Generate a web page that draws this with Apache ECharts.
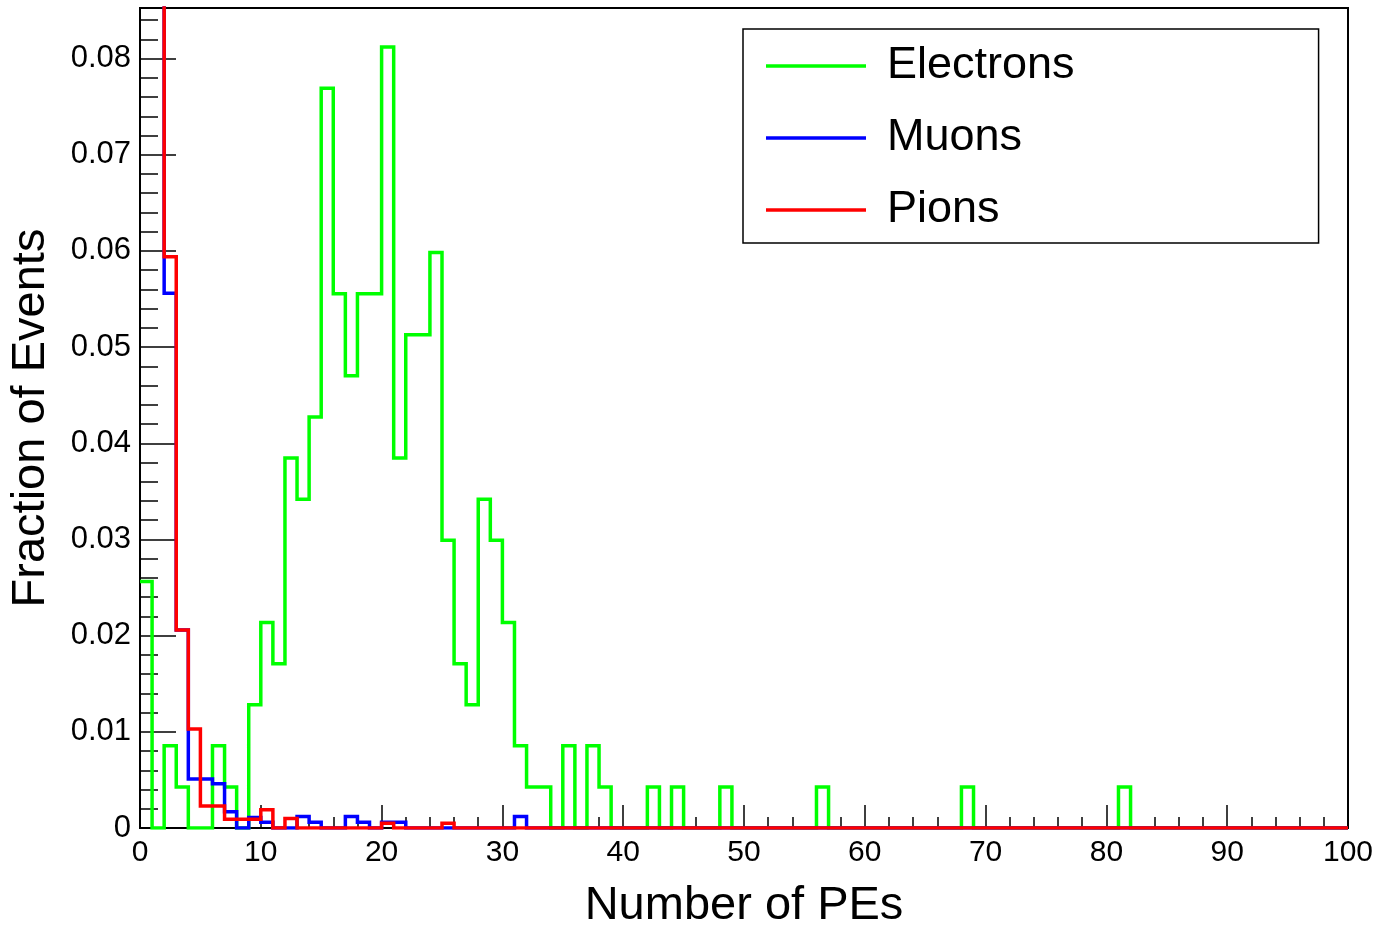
<!DOCTYPE html>
<html>
<head>
<meta charset="utf-8">
<title>Number of PEs</title>
<script src="https://cdn.jsdelivr.net/npm/echarts@6/dist/echarts.min.js"></script>
<style>
  html, body { margin: 0; padding: 0; background: #fff; }
  #chart { width: 1379px; height: 926px; }
</style>
</head>
<body>
<div id="chart"></div>
<script>
// fraction of events per 1-PE bin, bins 0..99
var electrons = [
  0.02564, 0, 0.00855, 0.00427, 0, 0, 0.00855, 0.00427, 0, 0.01282,
  0.02137, 0.01709, 0.03846, 0.03419, 0.04274, 0.07692, 0.05556, 0.04701, 0.05556, 0.05556,
  0.08120, 0.03846, 0.05128, 0.05128, 0.05983, 0.02991, 0.01709, 0.01282, 0.03419, 0.02991,
  0.02137, 0.00855, 0.00427, 0.00427, 0, 0.00855, 0, 0.00855, 0.00427, 0,
  0, 0, 0.00427, 0, 0.00427, 0, 0, 0, 0.00427, 0,
  0, 0, 0, 0, 0, 0, 0.00427, 0, 0, 0,
  0, 0, 0, 0, 0, 0, 0, 0, 0.00427, 0,
  0, 0, 0, 0, 0, 0, 0, 0, 0, 0,
  0, 0.00427, 0, 0, 0, 0, 0, 0, 0, 0,
  0, 0, 0, 0, 0, 0, 0, 0, 0, 0
];
// first two bins run off the top of the frame
var muons = [
  0.30, 0.16, 0.0556, 0.0206, 0.0051, 0.0051, 0.0046, 0.0017, 0, 0.0011,
  0.0006, 0, 0, 0.0012, 0.0006, 0, 0, 0.0012, 0.0006, 0,
  0.0006, 0.0006, 0, 0, 0, 0, 0, 0, 0, 0,
  0, 0.0012, 0, 0, 0, 0, 0, 0, 0, 0,
  0, 0, 0, 0, 0, 0, 0, 0, 0, 0,
  0, 0, 0, 0, 0, 0, 0, 0, 0, 0,
  0, 0, 0, 0, 0, 0, 0, 0, 0, 0,
  0, 0, 0, 0, 0, 0, 0, 0, 0, 0,
  0, 0, 0, 0, 0, 0, 0, 0, 0, 0,
  0, 0, 0, 0, 0, 0, 0, 0, 0, 0
];
var pions = [
  0.30, 0.17, 0.0594, 0.0206, 0.0103, 0.0023, 0.0023, 0.0009, 0.0009, 0.0009,
  0.0019, 0, 0.0010, 0, 0, 0, 0, 0, 0, 0,
  0.0005, 0, 0, 0, 0, 0.0005, 0, 0, 0, 0,
  0, 0, 0, 0, 0, 0, 0, 0, 0, 0,
  0, 0, 0, 0, 0, 0, 0, 0, 0, 0,
  0, 0, 0, 0, 0, 0, 0, 0, 0, 0,
  0, 0, 0, 0, 0, 0, 0, 0, 0, 0,
  0, 0, 0, 0, 0, 0, 0, 0, 0, 0,
  0, 0, 0, 0, 0, 0, 0, 0, 0, 0,
  0, 0, 0, 0, 0, 0, 0, 0, 0, 0
];
var yMax = 0.08526; // 1.05 x highest electron bin, like ROOT

var font = "'Liberation Sans', Arial, Helvetica, sans-serif";

// turn bin contents into a step outline (left edge, right edge of each bin)
function outline(vals) {
  var pts = [];
  for (var i = 0; i < vals.length; i++) {
    pts.push([i, vals[i]]);
    pts.push([i + 1, vals[i]]);
  }
  return pts;
}

function histSeries(name, vals, color) {
  return {
    name: name,
    type: 'line',
    data: outline(vals),
    symbol: 'none',
    clip: true,
    animation: false,
    lineStyle: { color: color, width: 3.5, join: 'miter' },
    itemStyle: { color: color }
  };
}

var chart = echarts.init(document.getElementById('chart'));
chart.setOption({
  backgroundColor: '#fff',
  animation: false,
  grid: {
    left: 140, top: 8, right: 31, bottom: 98,
    outerBoundsMode: 'none',
    containLabel: false,
    show: true, borderColor: '#000', borderWidth: 2, backgroundColor: 'transparent'
  },
  legend: {
    orient: 'vertical',
    left: 743, top: 29,
    padding: [12, 244, 8, 23],
    itemGap: 22,
    itemWidth: 100,
    itemHeight: 3.5,
    icon: 'rect',
    borderColor: '#000',
    borderWidth: 1.5,
    textStyle: { fontFamily: font, fontSize: 45, color: '#000', lineHeight: 50, padding: [0, 0, 0, 16] },
    data: ['Electrons', 'Muons', 'Pions']
  },
  xAxis: {
    type: 'value',
    min: 0, max: 100, interval: 10,
    name: 'Number of PEs',
    nameLocation: 'middle',
    nameGap: 55,
    nameTextStyle: { fontFamily: font, fontSize: 47, color: '#000' },
    axisLine: { lineStyle: { color: '#000', width: 2 } },
    axisTick: { inside: true, length: 23, lineStyle: { color: '#000', width: 1.5 } },
    minorTick: { show: true, splitNumber: 5, length: 11, lineStyle: { color: '#000', width: 1.5 } },
    axisLabel: { fontFamily: font, fontSize: 30, color: '#000', margin: 10 },
    splitLine: { show: false }
  },
  yAxis: [
    {
      type: 'value',
      min: 0, max: yMax, interval: 0.01,
      name: 'Fraction of Events',
      nameLocation: 'middle',
      nameGap: 85,
      nameTextStyle: { fontFamily: font, fontSize: 47, color: '#000' },
      axisLine: { lineStyle: { color: '#000', width: 2 } },
      axisTick: { inside: true, length: 36, lineStyle: { color: '#000', width: 1.5 } },
      axisLabel: {
        fontFamily: font, fontSize: 31, color: '#000', margin: 9, showMaxLabel: false,
        formatter: function (v) { return v === 0 ? '0' : v.toFixed(2); }
      },
      splitLine: { show: false }
    },
    {
      // minor ticks every 0.002
      type: 'value',
      position: 'left',
      min: 0, max: yMax, interval: 0.002,
      axisLine: { show: false },
      axisTick: { inside: true, length: 18, lineStyle: { color: '#000', width: 1.5 } },
      axisLabel: { show: false },
      splitLine: { show: false }
    }
  ],
  series: [
    histSeries('Electrons', electrons, '#00ff00'),
    histSeries('Muons', muons, '#0000ff'),
    histSeries('Pions', pions, '#ff0000')
  ]
});
</script>
</body>
</html>
